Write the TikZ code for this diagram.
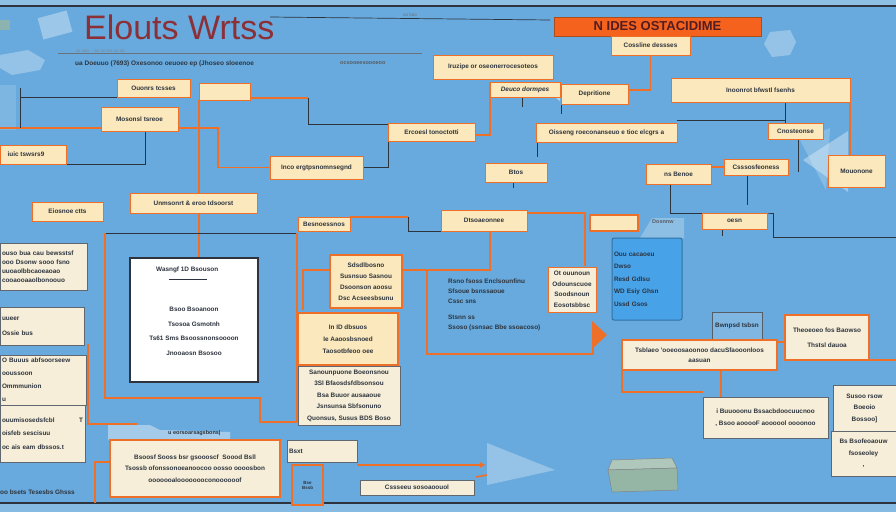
\documentclass[tikz,border=0pt]{standalone}
\usepackage{fontspec}
\setmainfont{Liberation Sans}
\usetikzlibrary{arrows.meta,calc}

\definecolor{sky}{RGB}{104,170,221}
\definecolor{cream}{RGB}{251,232,188}
\definecolor{paper}{RGB}{246,238,216}
\definecolor{orng}{RGB}{238,112,40}
\definecolor{hdrorng}{RGB}{244,98,30}
\definecolor{ink}{RGB}{45,52,62}
\definecolor{titlered}{RGB}{140,48,55}
\definecolor{bluebox}{RGB}{72,162,232}
\definecolor{slate}{RGB}{150,182,165}

\pgfdeclarelayer{sky}
\pgfdeclarelayer{wires}
\pgfsetlayers{sky,wires,main}

\begin{document}
\begin{tikzpicture}[x=1pt,y=-1pt,>=Latex,
  box/.style={draw=orng,fill=cream,line width=1pt,anchor=north west,inner sep=1pt,
    outer sep=0pt,align=center,text=ink,font=\bfseries\fontsize{6.4}{9}\selectfont},
  gbox/.style={box,draw=ink!75,fill=paper,line width=.8pt},
  bbox/.style={box,draw=bluebox!70!black,fill=bluebox,rounded corners=2pt},
  lh/.style={font=\bfseries\fontsize{6.4}{#1}\selectfont},
  oline/.style={draw=orng,line width=1.6pt},
  dline/.style={draw=ink,line width=.9pt},
  txt/.style={anchor=north west,inner sep=0pt,text=ink,align=left}]
  \useasboundingbox (0,0) rectangle (896,512);
  \begin{pgfonlayer}{sky}
    \fill[sky] (0,0) rectangle (896,512);
    \fill[sky!75!white] (0,0) rectangle (896,6);
    \fill[sky!80!white] (0,503) rectangle (896,512);
  \end{pgfonlayer}

  % title area
  \node[anchor=base west,inner sep=0pt,text=titlered,font=\fontsize{34}{34}\selectfont] (title) at (84,39) {Elouts Wrtss};
  \node[box,minimum width=207,minimum height=19,fill=hdrorng,draw=orng!70!black,line width=.6pt,
    text=titlered!60!black,font=\bfseries\fontsize{13}{13}\selectfont] (hdr) at (554,17) {N IDES OSTACIDIME};
  \node[anchor=west,inner sep=0pt,text=ink,font=\bfseries\fontsize{6.5}{7}\selectfont] (sub) at (75,64) {ua Doeuuo (7693) Oxesonoo oeuoeo ep (Jhoseo sloeenoe};
  \node[anchor=west,inner sep=0pt,text=ink!80,font=\bfseries\fontsize{5.5}{6}\selectfont] (subr) at (340,63) {ocsooeesoooeoo};
  \node[anchor=west,inner sep=0pt,text=ink!60,font=\fontsize{4.5}{5}\selectfont] (subt) at (76,51) {ro ouo \quad eu oo eo oo oo};
  \node[anchor=west,inner sep=0pt,text=ink!70,font=\fontsize{4.5}{5}\selectfont] (topt) at (403,15) {oo boo};

  % boxes
  \node[box,minimum width=79,minimum height=19] (cosel) at (611,36) {Cossline dessses};
  \node[box,minimum width=120,minimum height=24] (irup) at (433,55) {Iruzipe or oseonerrocesoteos};
  \node[box,minimum width=70,minimum height=15,font=\bfseries\itshape\fontsize{6.4}{7}\selectfont] (deuc) at (490,82) {Deuco dormpes};
  \node[box,minimum width=67,minimum height=20] (depr) at (561,84) {Depritione};
  \node[box,minimum width=179,minimum height=24] (inoo) at (671,78) {Inoonrot bfwstl fsenhs};
  \node[box,minimum width=73,minimum height=18] (ouon) at (117,79) {Ouonrs tcsses};
  \node[box,minimum width=51,minimum height=17] (blank) at (199,83) {};
  \node[box,minimum width=77,minimum height=24] (moso) at (101,107) {Mosonsl tsreoe};
  \node[box,minimum width=87,minimum height=18] (eroo) at (388,123) {Ercoesl tonoctotti};
  \node[box,minimum width=141,minimum height=19] (oiss) at (536,123) {Oisseng roeconanseuo e tioc elcgrs a};
  \node[box,minimum width=55,minimum height=16] (cnos) at (768,123) {Cnosteonse};
  \node[box,minimum width=66,minimum height=19] (iioc) at (0,145) {iuic tswsrs9\hspace*{14pt}};
  \node[box,minimum width=93,minimum height=23] (inoe) at (270,156) {Inco ergtpsnomnsegnd};
  \node[box,minimum width=62,minimum height=19] (btos) at (485,163) {Btos};
  \node[box,minimum width=65,minimum height=20] (nsbe) at (646,164) {ns Benoe};
  \node[box,minimum width=64,minimum height=16] (csso) at (724,159) {Csssosfeoness};
  \node[box,minimum width=57,minimum height=32] (mouo) at (828,155) {Mouonone};
  \node[box,minimum width=127,minimum height=20] (unms) at (130,193) {Unmsonrt \& eroo tdsoorst};
  \node[box,minimum width=71,minimum height=19] (eios) at (32,202) {Eiosnoe ctts};
  \node[box,minimum width=52,minimum height=14] (besn) at (298,217) {Besnoessnos};
  \node[box,minimum width=86,minimum height=21] (dtso) at (441,210) {Dtsoaeonnee};
  \node[box,minimum width=48,minimum height=16,line width=2pt] (empt) at (590,215) {};
  \node[box,minimum width=65,minimum height=16] (oesn) at (702,213) {oesn};
  \node[bbox,minimum width=70,minimum height=82,text width=66,align=left,lh=12.5] (blu) at (612,238)
    {Ouu cacaoeu\\Dwso\\Resd Gdlsu\\WD Esiy Ghsn\\Ussd Gsos};
  \node[anchor=north west,inner sep=0pt,text=ink!80,font=\bfseries\fontsize{5.5}{6}\selectfont] (dosn) at (652,220) {Dosnnw};
  \node[gbox,minimum width=87,minimum height=47,text width=83,align=left] (ssos) at (0,243)
    {ouso bua cau bewsstsf\\ooo Dsonw sooo fsno\\uuoaolbbcaoeaoao\\cooaooaaolbonoouo};
  \node[box,draw=ink,fill=white,line width=2pt,minimum width=128,minimum height=124] (memo) at (130,258) {};
  \node[box,minimum width=72,minimum height=53,lh=11,line width=1.3pt] (sdsg) at (330,255)
    {Sdsdlbosno\\Susnsuo Sasnou\\Dsoonson aoosu\\Dsc Acseesbsunu};
  \node[box,minimum width=48,minimum height=45,lh=10.5,fill=paper] (otu) at (548,267)
    {Ot ouunoun\\Odounscuoe\\Soodsnoun\\Eosotsbbsc};
  \node[gbox,minimum width=84,minimum height=38,text width=80,align=left,lh=15] (uuee) at (0,307)
    {uueer\\Ossie bus};
  \node[box,minimum width=100,minimum height=52,lh=12,line width=1.3pt] (inlb) at (298,313)
    {In ID dbsuos\\Ie Aaoosbsnoed\\Taosotbfeoo oee};
  \node[gbox,minimum width=86,minimum height=50,text width=82,align=left,lh=13] (obus) at (0,355)
    {O Buuus abfsoorseew\\ooussoon\\Ommmunion\\u};
  \node[gbox,minimum width=102,minimum height=59,lh=11.5] (sstex) at (298,366)
    {Sanounpuone Boeonsnou\\3Sl Bfaosdsfdbsonsou\\Bsa Buuor ausaaoue\\Jsnsunsa Sbfsonuno\\Quonsus, Susus BDS Boso};
  \node[gbox,minimum width=85,minimum height=57,text width=81,align=left,lh=13.5] (uuis) at (0,405)
    {ouumisosedsfcbl\hfill T\\oisfeb sescisuu\\oc ais eam dbssos.t};
  \node[box,draw=ink!80,fill=sky!85!white,minimum width=50,minimum height=28,line width=.8pt] (bwnp) at (712,312) {Bwnpsd tsbsn};
  \node[box,minimum width=84,minimum height=45,lh=14.5,fill=paper,line width=1.5pt] (thes) at (785,315)
    {Theoeoeo fos Baowso\\Thstsl dauoa};
  \node[box,minimum width=155,minimum height=30,lh=10,fill=paper,line width=2pt] (tsbl) at (622,340)
    {Tsblaeo 'ooeoosaoonoo dacuSfaooonloos\\aasuan};
  \node[gbox,minimum width=125,minimum height=41,lh=12] (ibus) at (703,397)
    {i Buuooonu Bssacbdoocuucnoo\\, Bsoo aooooF aoooool oooonoo};
  \node[gbox,minimum width=63,minimum height=46,lh=11.5] (sbus) at (833,385) {Susoo rsow\\Boeoio\\Bossoo]};
  \node[gbox,minimum width=65,minimum height=45,lh=11.5] (sfse) at (831,431) {Bs Bsofeoaouw\\fsoseoley\\,};
  \node[box,minimum width=170,minimum height=57,lh=11.5,fill=paper,line width=1.5pt] (dsbs) at (110,440)
    {Bsoosf Sooss bsr gsoooscf \ Soood Bsll\\Tsossb ofonssonoeanoocoo oosso oooosbon\\ooooooaloooooooconoooooof};
  \node[gbox,minimum width=70,minimum height=22,text width=66,align=left] (boso) at (287,440) {Bsxt};
  \node[box,fill=sky,line width=2.5pt,minimum width=31,minimum height=40,
    font=\bfseries\fontsize{4.5}{5}\selectfont] (tiny) at (292,465) {Bse\\Bssb};
  \node[gbox,minimum width=114,minimum height=15] (cssu) at (360,480) {Cssseeu sosoaoouol};

  % loose texts
  \node[anchor=west,inner sep=0pt,text=ink,font=\bfseries\fontsize{6.4}{7}\selectfont] (memohd) at (156,270) {Wasngf 1D Bsouson};
  \node[anchor=north,inner sep=0pt,text=ink,align=center,font=\bfseries\fontsize{6.4}{14.5}\selectfont] (memotx) at (194,307)
    {Bsoo Bsoanoon\\Tsosoa Gsmotnh\\Ts61 Sms Bsoossnonsoooon\\Jnooaosn Bsosoo};
  \node[txt,font=\bfseries\fontsize{6.4}{10}\selectfont] (flow) at (448,279)
    {Rsno fsoss Enclsounfinu\\Sfsoue bsnssaoue\\Cssc sns\\[6pt]Stsnn ss\\Ssoso (ssnsac Bbe ssoacoso)};
  \node[anchor=west,inner sep=0pt,text=ink,font=\bfseries\fontsize{6.4}{7}\selectfont] (foot) at (0,492) {oo bsets Tesesbs Ghsss};
  \node[anchor=west,inner sep=0pt,text=ink,font=\bfseries\fontsize{5.5}{6}\selectfont] (dsbhd) at (168,433) {u eorsoarsagsbons|};

  \draw[ink,line width=.6pt] ([yshift=-6]memohd.south) ++(-18,0) -- ++(38,0);

  \begin{pgfonlayer}{wires}
    % frame lines and faint shapes
    \draw[ink,line width=1.3pt] (0,6) -- (896,6);
    \draw[ink,line width=1.3pt] (0,503) -- (896,503);
    \draw[ink!70,line width=.6pt] (58,53) -- (422,53);
    \draw[ink,line width=.7pt] (270,17) -- (550,20);
    \fill[white,opacity=.35,rotate around={15:(55,25)}] (40,14) rectangle (70,36);
    \fill[slate,opacity=.8] (0,20) rectangle (10,30);
    \fill[white,opacity=.3] (0,55) -- (28,50) -- (45,60) -- (40,70) -- (12,75) -- (0,68) -- cycle;
    \fill[white,opacity=.15] (0,85) rectangle (16,130);
    \fill[white,opacity=.3] (770,32) -- (790,30) -- (796,42) -- (790,55) -- (772,57) -- (764,44) -- cycle;
    \fill[white,opacity=.35] (803,160) -- (848,131) -- (848,192) -- cycle;
    \fill[white,opacity=.2] (800,140) -- (830,128) -- (826,190) -- cycle;
    \fill[white,opacity=.5] (537,84) -- (560,86) -- (560,101) -- cycle;
    \fill[white,opacity=.3] (487,443) -- (555,470) -- (487,485) -- cycle;
    \fill[white,opacity=.4] (108,425) -- (150,425) -- (160,430) -- (230,432) -- (230,440) -- (108,440) -- cycle;
    \fill[white,opacity=.25] (652,218) -- (684,218) -- (684,238) -- (640,238) -- cycle;
    \filldraw[fill=slate!75!white,draw=ink!60,line width=.5pt] (612,460) -- (672,458) -- (677,468) -- (608,470) -- cycle;
    \filldraw[fill=slate,draw=ink!60,line width=.5pt] (608,470) -- (677,468) -- (678,490) -- (612,492) -- cycle;

    % connectors
    \draw[oline] (blank.south west) -- (blank.south west |- memo.north);
    \draw[oline] ([yshift=2]blank.south east) -- ++(58,0) coordinate (k1);
    \draw[dline] (k1) |- ([yshift=-1]eroo.north west);
    \coordinate (k2) at (0,128);
    \draw[oline] (k2) -- (k2 -| moso.west);
    \draw[oline] ([yshift=-9]moso.east) -- ++(40,0) |- (inoe.west);
    \draw[dline] (20,88) -- (20,128);
    \draw[dline] (20,97) -- (ouon.south west);
    \draw[dline] ([xshift=5.5]moso.south) |- (iioc.south east);
    \draw[dline] (inoe.east) -| (eroo.south west);
    \draw[oline] ([yshift=-3]eroo.east) -| (deuc.north west);
    \draw[dline] ([xshift=-3]deuc.south) -- ++(0,10);
    \draw[dline] (depr.south west) -- ++(0,10);
    \draw[oline] (cosel.south) |- ([yshift=4]depr.east);
    \draw[dline] ([yshift=3]oiss.north east) -- ++(108,0);
    \draw[dline] ([xshift=24.5]inoo.south) -- ([xshift=24.5]inoo.south |- cnos.north);
    \draw[oline] (inoo.south east) -- (inoo.south east |- mouo.north);
    \draw[dline] ([xshift=2.5]cnos.south) -- ++(0,33);
    \draw[dline] ([xshift=1]oiss.south west) -- ++(0,15);
    \draw[dline] ([xshift=-3]btos.south) -- ++(0,6);
    \draw[oline] (nsbe.east |- csso.west) -- (csso.west);
    \coordinate (redge) at (896,237);
    \draw[dline] ([xshift=-8.5]nsbe.south) |- (oesn.north east) -- ++(6,0) |- (redge);
    \draw[dline] ([xshift=-9]csso.south) -- ++(0,30);
    \draw[dline] ([xshift=-12.5]oesn.south) -- ++(0,7);
    \coordinate (b1) at (105,233);
    \coordinate (b2) at (297,233);
    \draw[dline] (b1) -- (b2);
    \draw[oline] (b1) -- (105,398) -- (260,398) -- (260,422) -- (297,422);
    \draw[oline] (b2) -- (297,422);
    \draw[oline] (besn.north east) -- ++(58,0) coordinate (k3);
    \draw[dline] (k3) |- (dtso.south west);
    \draw[oline] ([yshift=-3]dtso.north east) -| (585,266);
    \draw[oline] ([xshift=6]dtso.south) |- ([yshift=11.5]sdsg.east);
    \coordinate (k4) at (427,270);
    \draw[oline] (k4) |- (593,354) -- (593,330);
    \fill[orng] (592,321) -- (607,335) -- (592,349) -- cycle;
    \draw[oline] ([yshift=11.5]sdsg.west) -- ++(-27,0) -- ++(0,40);
    \draw[oline] (88,344) -- (88,424) -- (137,424);
    \draw[oline] ([yshift=6.5]dsbs.west) -- ++(-15,0) -- ++(0,41);
    \coordinate (tip) at (486,465);
    \draw[oline,-{Latex[length=6pt,width=6pt]}] ([yshift=-3]boso.south east) -- (tip);
    \draw[oline] (476,477) -- (487,475);
    \draw[oline] (tsbl.south west) -- ++(0,22) -- ++(81,0);
    \draw[oline] ([xshift=21.5]tsbl.south) -- ([xshift=21.5]tsbl.south |- ibus.north);
    \draw[oline] ([yshift=-2]tsbl.north east) -- ([yshift=-2]tsbl.north east -| thes.west);
    \draw[oline] (thes.south east) -- ++(27,0);
  \end{pgfonlayer}
\end{tikzpicture}
\end{document}
